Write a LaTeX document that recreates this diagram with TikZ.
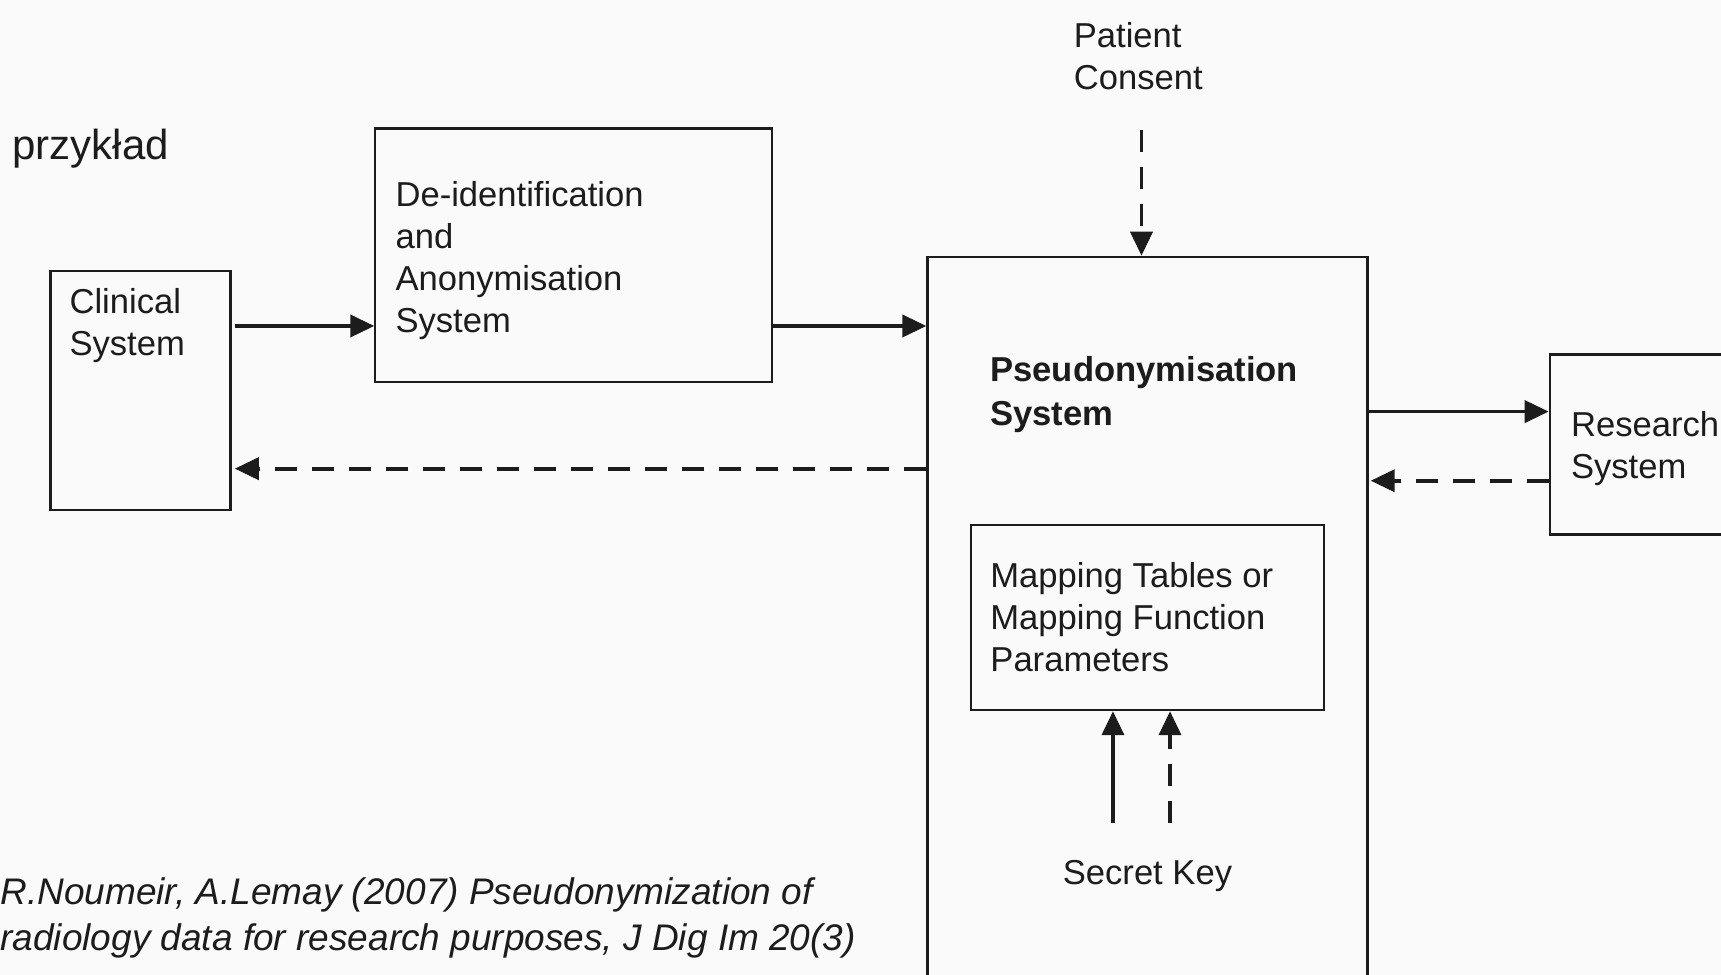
\documentclass[tikz,border=0pt]{standalone}
\usepackage{fontspec}
\setmainfont{Liberation Sans}
\usetikzlibrary{arrows.meta,fit}
\definecolor{bg}{RGB}{250,250,250}
\definecolor{ink}{RGB}{28,28,28}

\begin{document}
\begin{tikzpicture}[x=0.5488pt,y=-0.5488pt,
  box/.style={draw=ink,line width=1.1pt,inner sep=0pt},
  lbl/.style={inner sep=0pt,anchor=base west,align=left,text=ink,
    font=\fontsize{17.3}{21}\selectfont},
  flow/.style={draw=ink,line width=1.9pt,-{Triangle[length=12pt,width=11pt]}},
  back/.style={flow,dash pattern=on 11pt off 7.5pt},
]
% page and background
\useasboundingbox (0,0) rectangle (1568,888);
\fill[bg] (0,0) rectangle (1568,888);

% boxes
\node[box,fit={(46,247) (210,465)}] (clin) {};
\node[box,fit={(342,117) (703,348)}] (deid) {};
\node[box,fit={(845,234) (1246,900)}] (pseudo) {};
\node[box,fit={(885,478) (1206,647)}] (map) {};
\node[box,fit={(1412,323) (1580,487)}] (res) {};

% texts (a multi-line node sits on the baseline of its last line)
\node[lbl,font=\fontsize{21}{25}\selectfont] (title) at (11,145) {przykład};
\node[lbl] (clintxt) at (63,324) {Clinical\\System};
\node[lbl] (deidtxt) at (360,303) {De-identification\\and\\Anonymisation\\System};
\node[lbl] (pc) at (978,82) {Patient\\Consent};
\node[lbl,font=\fontsize{17.3}{22}\selectfont\bfseries] (pseudotxt) at (902,388) {Pseudonymisation\\System};
\node[lbl] (restxt) at (1431,436) {Research\\System};
\node[lbl] (maptxt) at (902,612) {Mapping Tables or\\Mapping Function\\Parameters};
\node[lbl] (sk) at (968,806) {Secret Key};
\node[lbl,font=\fontsize{18.5}{23}\selectfont\itshape] (cite) at (0,866)
  {R.Noumeir, A.Lemay (2007) Pseudonymization of\\radiology data for research purposes, J Dig Im 20(3)};

% free ends of the input arrows
\coordinate (pcfoot) at (1040,118);
\coordinate (skA) at (1014,750);
\coordinate (skB) at (1066,750);

% connectors
\draw[flow,shorten <=1.6pt] (clin.east |- 0,297) -- (deid.west |- 0,297);
\draw[flow] (deid.east |- 0,297) -- (pseudo.west |- 0,297);
\draw[back,shorten >=1.6pt] (pseudo.west |- 0,427) -- (clin.east |- 0,427);
\draw[flow] (pseudo.east |- 0,375) -- (res.west |- 0,375);
\draw[back,shorten >=1pt] (res.west |- 0,438) -- (pseudo.east |- 0,438);
\draw[back] (pcfoot) -- (pseudo.north -| pcfoot);
\draw[flow] (skA) -- (map.south -| skA);
\draw[back] (skB) -- (map.south -| skB);
\end{tikzpicture}
\end{document}
